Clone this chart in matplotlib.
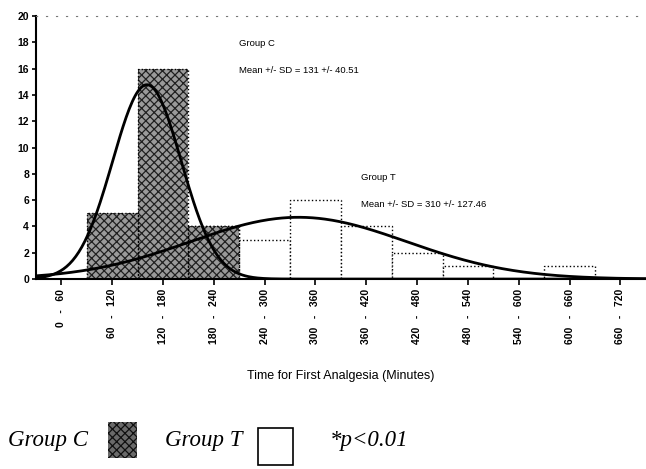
import numpy as np
import matplotlib.pyplot as plt

# time bins (minutes), counts per group
bin_labels = ['0   -   60', '60   -   120', '120   -   180', '180   -   240', '240   -   300',
              '300   -   360', '360   -   420', '420   -   480', '480   -   540',
              '540   -   600', '600   -   660', '660   -   720']
bin_left = [0, 60, 120, 180, 240, 300, 360, 420, 480, 540, 600, 660]
group_c = [0, 5, 16, 4, 0, 0, 0, 0, 0, 0, 0, 0]
group_t = [0, 1, 3, 4, 3, 6, 4, 2, 1, 0, 1, 0]
mean_c, sd_c = 131, 40.51
mean_t, sd_t = 310, 127.46
width = 60

fig = plt.figure(figsize=(6.46, 4.69), dpi=100)
ax = fig.add_axes([0.0557, 0.405, 0.944, 0.561])

centers = np.array(bin_left) + width / 2
ax.bar(centers, group_t, width=width, facecolor='white', edgecolor='black',
       linestyle=':', linewidth=1.0, zorder=1)
plt.rcParams['hatch.linewidth'] = 0.9
ax.bar(centers, group_c, width=width, facecolor='#9a9a9a', edgecolor='#202020',
       hatch='xxxx', linewidth=0, zorder=2)
ax.bar(centers, group_c, width=width, facecolor='none', edgecolor='black',
       linestyle=':', linewidth=1.0, zorder=2)

# fitted normal curves from mean / SD
xs = np.linspace(0, 720, 400)
for m, s, counts in [(mean_c, sd_c, group_c), (mean_t, sd_t, group_t)]:
    n = sum(counts)
    ys = n * width / (s * np.sqrt(2 * np.pi)) * np.exp(-0.5 * ((xs - m) / s) ** 2)
    ax.plot(xs, ys, color='black', linewidth=2.0, zorder=3)

ax.set_xlim(0, 720)
ax.set_ylim(0, 20)
ax.set_yticks(range(0, 21, 2))
ax.set_xticks(centers)
ax.set_xticklabels(bin_labels, rotation=90, va='top', fontsize=7.5,
                   fontweight='bold', family='Liberation Sans')
ax.tick_params(axis='y', labelsize=7.5, length=3, width=1.2, pad=2)
ax.tick_params(axis='x', length=4, width=1.2, pad=3)
for lab in ax.get_yticklabels():
    lab.set_fontweight('bold')
    lab.set_family('Liberation Sans')
ax.spines['right'].set_visible(False)
ax.spines['top'].set_linestyle((0, (1, 8)))
ax.spines['top'].set_color('#777777')
ax.spines['top'].set_linewidth(0.8)
ax.spines['left'].set_linewidth(1.5)
ax.spines['bottom'].set_linewidth(1.5)

ax.set_xlabel('Time for First Analgesia (Minutes)', fontsize=9,
              family='Liberation Sans', labelpad=19)

ax.text(240, 17.7, 'Group C', fontsize=6.8, family='Liberation Sans')
ax.text(240, 15.7, 'Mean +/- SD = 131 +/- 40.51', fontsize=6.8, family='Liberation Sans')
ax.text(384, 7.5, 'Group T', fontsize=6.8, family='Liberation Sans')
ax.text(384, 5.5, 'Mean +/- SD = 310 +/- 127.46', fontsize=6.8, family='Liberation Sans')

# legend row at the bottom
fig.text(0.012, 0.06, 'Group C', fontsize=16.5, style='italic', va='center',
         family='Liberation Serif')
fig.patches.append(plt.Rectangle((0.167, 0.023), 0.045, 0.077, transform=fig.transFigure,
                                 facecolor='#6a6a6a', edgecolor='#101010', hatch='xxxx',
                                 linewidth=0))
fig.text(0.255, 0.06, 'Group T', fontsize=16.5, style='italic', va='center',
         family='Liberation Serif')
fig.patches.append(plt.Rectangle((0.4, 0.009), 0.053, 0.079, transform=fig.transFigure,
                                 facecolor='white', edgecolor='black', linewidth=1.2))
fig.text(0.51, 0.06, '*p<0.01', fontsize=16.5, style='italic', va='center',
         family='Liberation Serif')

fig.savefig('out.png', dpi=100)
